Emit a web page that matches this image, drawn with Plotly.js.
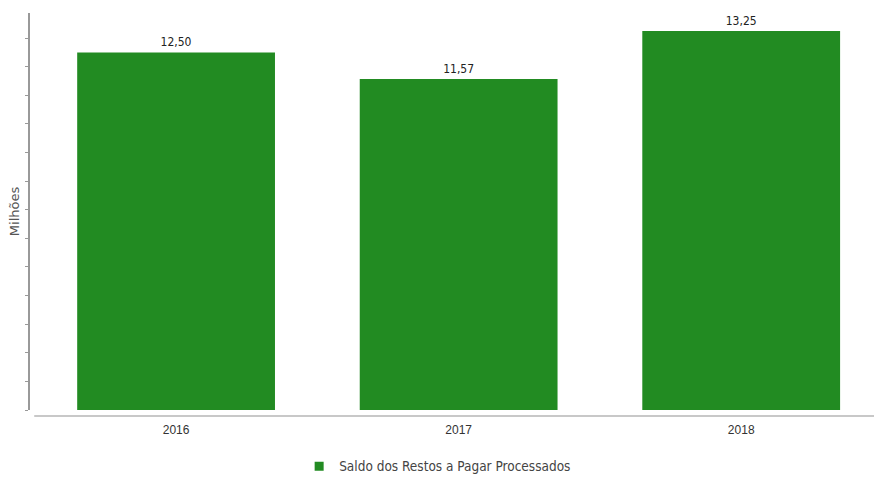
<!DOCTYPE html>
<html>
<head>
<meta charset="utf-8">
<script src="https://cdn.plot.ly/plotly-3.0.1.min.js"></script>
<style>html,body{margin:0;padding:0;background:#fff;overflow:hidden;}#chart{width:874px;height:477px;}</style>
</head>
<body>
<div id="chart"></div>
<script>
const categories = ['2016', '2017', '2018'];
const values = [12.50, 11.57, 13.25];
const seriesName = 'Saldo dos Restos a Pagar Processados';
const barColor = '#228B22';

const traces = [
  {
    type: 'bar',
    x: categories,
    y: values,
    width: 0.7,
    marker: {color: barColor},
    texttemplate: '%{y:.2f}',
    textposition: 'outside',
    cliponaxis: false,
    textfont: {family: 'DejaVu Sans Condensed, Liberation Sans, sans-serif', size: 12, color: '#222'},
    showlegend: false,
    hoverinfo: 'x+y'
  },
  {
    type: 'scatter',
    mode: 'markers',
    x: [null],
    y: [null],
    name: seriesName,
    marker: {symbol: 'square', size: 9, color: barColor},
    showlegend: true
  }
];

const layout = {
  width: 874,
  height: 477,
  margin: {l: 30, r: 0, t: 13, b: 67, autoexpand: false},
  paper_bgcolor: '#fff',
  plot_bgcolor: '#fff',
  separators: ',.',
  font: {family: 'Liberation Sans, Arial, sans-serif', color: '#444'},
  bargap: 0.3,
  xaxis: {
    type: 'category',
    range: [-0.517, 2.47],
    showline: false,
    showgrid: false,
    zeroline: false,
    ticks: '',
    ticklabelstandoff: 11,
    tickfont: {family: 'Liberation Sans, Arial, sans-serif', size: 12, color: '#333'},
    fixedrange: true
  },
  yaxis: {
    range: [0, 13.88],
    dtick: 1,
    tick0: 0,
    showticklabels: false,
    ticks: 'outside',
    ticklen: 3,
    tickcolor: '#999',
    tickwidth: 1,
    showline: true,
    linecolor: '#999',
    linewidth: 2,
    showgrid: false,
    zeroline: false,
    title: {text: 'Milhões', font: {family: 'DejaVu Sans, sans-serif', size: 13, color: '#555'}, standoff: 2},
    fixedrange: true
  },
  shapes: [
    {type: 'line', xref: 'paper', yref: 'paper', x0: 0.005, x1: 1, y0: -0.0151, y1: -0.0151,
     line: {color: '#c8c8c8', width: 2}}
  ],
  legend: {
    orientation: 'h',
    x: 0.483,
    xanchor: 'center',
    y: -0.142,
    yanchor: 'middle',
    font: {family: 'DejaVu Sans Condensed, Liberation Sans Narrow, sans-serif', size: 13.5, color: '#444'},
    itemwidth: 30
  }
};

Plotly.newPlot('chart', traces, layout, {displayModeBar: false, staticPlot: true});
</script>
</body>
</html>
